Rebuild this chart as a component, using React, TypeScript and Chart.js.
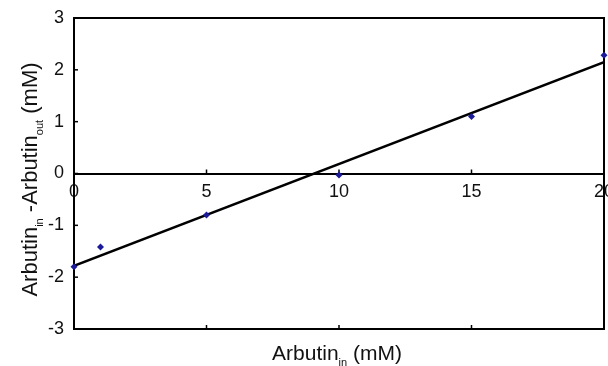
import React, { useEffect, useRef } from "react";
import { Chart, registerables } from "chart.js";

Chart.register(...registerables);

// Data
const arbutinIn = [0, 1, 5, 10, 15, 20];
const arbutinDiff = [-1.8, -1.42, -0.8, -0.03, 1.1, 2.28];
// fitted trend line endpoints (as drawn)
const trendX = [0, 20];
const trendY = [-1.78, 2.15];

const xTicks = [0, 5, 10, 15, 20];
const yTicks = [-3, -2, -1, 0, 1, 2, 3];

const FONT = "'Liberation Sans', Arial, Helvetica, sans-serif";

const framePlugin = {
  id: "frameAndTitles",
  beforeDatasetsDraw(chart: any) {
    const { ctx, chartArea } = chart;
    const { left, right, top, bottom } = chartArea;
    const xs = chart.scales.x;
    const ys = chart.scales.y;
    ctx.save();
    ctx.strokeStyle = "#000";
    ctx.lineWidth = 2;
    ctx.strokeRect(left, top, right - left, bottom - top);
    ctx.lineWidth = 1.5;
    for (const v of yTicks) {
      const py = ys.getPixelForValue(v);
      ctx.beginPath();
      ctx.moveTo(left, py);
      ctx.lineTo(left + 4, py);
      ctx.stroke();
    }
    const zeroY = ys.getPixelForValue(0);
    for (const v of xTicks) {
      const px = xs.getPixelForValue(v);
      ctx.beginPath();
      ctx.moveTo(px, zeroY);
      ctx.lineTo(px, zeroY - 4);
      ctx.stroke();
      ctx.beginPath();
      ctx.moveTo(px, bottom);
      ctx.lineTo(px, bottom - 4);
      ctx.stroke();
    }
    ctx.restore();
  },
  afterDraw(chart: any) {
    const { ctx } = chart;
    ctx.save();
    ctx.fillStyle = "#111";
    ctx.textBaseline = "alphabetic";
    const measure = (ps: any[]) =>
      ps.reduce((s, p) => {
        ctx.font = p.f;
        return s + ctx.measureText(p.t).width;
      }, 0);
    const big = `21px ${FONT}`;
    const small = `11px ${FONT}`;
    const parts = [
      { t: "Arbutin", f: big, dy: 0 },
      { t: "in", f: small, dy: 6 },
      { t: " (mM)", f: big, dy: 0 },
    ];
    let w = measure(parts);
    let x0 = 337 - w / 2;
    const by = 360;
    for (const p of parts) {
      ctx.font = p.f;
      ctx.textAlign = "left";
      ctx.fillText(p.t, x0, by + p.dy);
      x0 += ctx.measureText(p.t).width;
    }
    const bigY = `22px ${FONT}`;
    const yparts = [
      { t: "Arbutin", f: bigY, dy: 0 },
      { t: "in", f: small, dy: 6 },
      { t: " -Arbutin", f: bigY, dy: 0 },
      { t: "out", f: small, dy: 6 },
      { t: " (mM)", f: bigY, dy: 0 },
    ];
    w = measure(yparts);
    ctx.translate(37, 179.5);
    ctx.rotate(-Math.PI / 2);
    let xx = -w / 2;
    for (const p of yparts) {
      ctx.font = p.f;
      ctx.textAlign = "left";
      ctx.fillText(p.t, xx, p.dy);
      xx += ctx.measureText(p.t).width;
    }
    ctx.restore();
  },
};

export default function App() {
  const ref = useRef<HTMLCanvasElement | null>(null);
  useEffect(() => {
    if (!ref.current) return;
    const chart = new Chart(ref.current, {
      type: "scatter",
      data: {
        datasets: [
          {
            type: "line",
            data: trendX.map((x, i) => ({ x, y: trendY[i] })),
            borderColor: "#000",
            borderWidth: 2.5,
            pointRadius: 0,
            fill: false,
            order: 2,
          } as any,
          {
            data: arbutinIn.map((x, i) => ({ x, y: arbutinDiff[i] })),
            pointStyle: "rectRot",
            pointRadius: 3.5,
            backgroundColor: "#1a1a9a",
            borderColor: "#1a1a9a",
            borderWidth: 0,
            clip: false,
            order: 1,
          } as any,
        ],
      },
      options: {
        animation: false,
        responsive: true,
        maintainAspectRatio: false,
        layout: { padding: { top: 18, right: 2, bottom: 37, left: 0 } },
        plugins: {
          legend: { display: false },
          tooltip: { enabled: false },
        },
        scales: {
          x: {
            type: "linear",
            position: { y: 0 } as any,
            min: 0,
            max: 20,
            grid: { display: false, drawTicks: false },
            border: { display: true, color: "#000", width: 2 },
            ticks: {
              stepSize: 5,
              padding: 8,
              color: "#111",
              font: { family: FONT, size: 18 },
              maxRotation: 0,
              autoSkip: false,
            },
            afterFit: (s: any) => {
              s.height = 0;
              s.paddingLeft = 0;
              s.paddingRight = 0;
            },
          },
          y: {
            type: "linear",
            min: -3,
            max: 3,
            grid: { display: false, drawTicks: false },
            border: { display: true, color: "#000", width: 2 },
            ticks: {
              stepSize: 1,
              padding: 10,
              color: "#111",
              font: { family: FONT, size: 18 },
            },
            afterFit: (s: any) => {
              s.width = 74;
              s.paddingTop = 0;
              s.paddingBottom = 0;
            },
          },
        },
      },
      plugins: [framePlugin],
    });
    return () => chart.destroy();
  }, []);
  return (
    <div
      style={{
        position: "fixed",
        left: 0,
        top: 0,
        width: 608,
        height: 366,
        background: "#fff",
        overflow: "hidden",
      }}
    >
      <canvas ref={ref} />
    </div>
  );
}
